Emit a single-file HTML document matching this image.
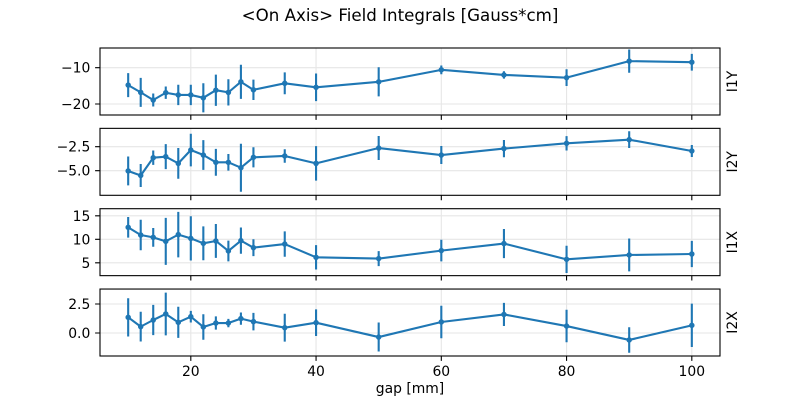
<!DOCTYPE html>
<html><head><meta charset="utf-8"><style>
html,body{margin:0;padding:0;background:#fff;}
svg{display:block;}
text{font-family:"DejaVu Sans","Liberation Sans",sans-serif;fill:#000;}
</style></head><body>
<svg width="800" height="400" viewBox="0 0 800 400" xmlns="http://www.w3.org/2000/svg">
<rect width="800" height="400" fill="#fff"/>
<text x="400" y="21" font-size="16.67" text-anchor="middle">&lt;On Axis&gt; Field Integrals [Gauss*cm]</text>

<!-- grids -->
<g stroke="#e6e6e6" stroke-width="1.1" fill="none">
  <path d="M190.81 48V115M316.06 48V115M441.31 48V115M566.56 48V115M691.81 48V115 M100 67.67H720M100 104H720"/>
  <path d="M190.81 128.35V195.3M316.06 128.35V195.3M441.31 128.35V195.3M566.56 128.35V195.3M691.81 128.35V195.3 M100 146.67H720M100 170.67H720"/>
  <path d="M190.81 208.7V275.65M316.06 208.7V275.65M441.31 208.7V275.65M566.56 208.7V275.65M691.81 208.7V275.65 M100 215.83H720M100 239.33H720M100 262.83H720"/>
  <path d="M190.81 289.04V356M316.06 289.04V356M441.31 289.04V356M566.56 289.04V356M691.81 289.04V356 M100 304H720M100 333H720"/>
</g>

<!-- series -->
<g stroke="#1f77b4" fill="none">
 <g transform="matrix(6.2626 0 0 -3.633 65.556 31.34)">
  <path vector-effect="non-scaling-stroke" stroke-width="2.1" d="M10 -18.1V-11.5 M12 -20.8V-12.8 M14 -20.7V-17.1 M16 -18.6V-15.2 M18 -20.3V-14.7 M20 -20.3V-14.7 M22 -22.3V-14.3 M24 -20.5V-11.9 M26 -20.4V-13.2 M28 -18.6V-9.2 M30 -18.9V-13.3 M35 -17.3V-11.3 M40 -19.2V-11.6 M50 -17.9V-9.9 M60 -11.8V-9.4 M70 -13V-11 M80 -15.05V-10.45 M90 -11.4V-5 M100 -10.8V-6.2"/>
  <polyline vector-effect="non-scaling-stroke" stroke-width="2.1" stroke-linejoin="round" points="10,-14.8 12,-16.8 14,-18.9 16,-16.9 18,-17.5 20,-17.5 22,-18.3 24,-16.2 26,-16.8 28,-13.9 30,-16.1 35,-14.3 40,-15.4 50,-13.9 60,-10.6 70,-12 80,-12.75 90,-8.2 100,-8.5"/>
  <path vector-effect="non-scaling-stroke" stroke-width="5.5" stroke-linecap="round" d="M10 -14.8l0 0M12 -16.8l0 0M14 -18.9l0 0M16 -16.9l0 0M18 -17.5l0 0M20 -17.5l0 0M22 -18.3l0 0M24 -16.2l0 0M26 -16.8l0 0M28 -13.9l0 0M30 -16.1l0 0M35 -14.3l0 0M40 -15.4l0 0M50 -13.9l0 0M60 -10.6l0 0M70 -12l0 0M80 -12.75l0 0M90 -8.2l0 0M100 -8.5l0 0"/>
 </g>
 <g transform="matrix(6.2626 0 0 -9.6 65.556 122.67)">
  <path vector-effect="non-scaling-stroke" stroke-width="2.1" d="M10 -6.53V-3.53 M12 -6.7V-4.3 M14 -4.4V-2.9 M16 -4.84V-2.24 M18 -5.84V-2.64 M20 -4.55V-1.15 M22 -4.92V-1.82 M24 -5.53V-2.73 M26 -5V-3.26 M28 -7.19V-2.19 M30 -4.66V-2.56 M35 -4.17V-2.77 M40 -6.04V-2.44 M50 -3.89V-1.39 M60 -4.31V-2.43 M70 -3.6V-1.8 M80 -2.9V-1.4 M90 -2.64V-0.9 M100 -3.58V-2.32"/>
  <polyline vector-effect="non-scaling-stroke" stroke-width="2.1" stroke-linejoin="round" points="10,-5.03 12,-5.5 14,-3.65 16,-3.54 18,-4.24 20,-2.85 22,-3.37 24,-4.13 26,-4.13 28,-4.69 30,-3.61 35,-3.47 40,-4.24 50,-2.64 60,-3.37 70,-2.7 80,-2.15 90,-1.77 100,-2.95"/>
  <path vector-effect="non-scaling-stroke" stroke-width="5.5" stroke-linecap="round" d="M10 -5.03l0 0M12 -5.5l0 0M14 -3.65l0 0M16 -3.54l0 0M18 -4.24l0 0M20 -2.85l0 0M22 -3.37l0 0M24 -4.13l0 0M26 -4.13l0 0M28 -4.69l0 0M30 -3.61l0 0M35 -3.47l0 0M40 -4.24l0 0M50 -2.64l0 0M60 -3.37l0 0M70 -2.7l0 0M80 -2.15l0 0M90 -1.77l0 0M100 -2.95l0 0"/>
 </g>
 <g transform="matrix(6.2626 0 0 -4.7 65.556 286.33)">
  <path vector-effect="non-scaling-stroke" stroke-width="2.1" d="M10 10.35V14.75 M12 7.67V14.17 M14 8.42V12.42 M16 4.57V14.57 M18 6.15V15.85 M20 5.5V14.9 M22 5.55V12.75 M24 6.05V13.25 M26 5.32V9.72 M28 6.92V12.52 M30 6.43V10.03 M35 6.3V11.7 M40 3.57V8.77 M50 4.3V7.5 M60 5.3V9.9 M70 6V12.2 M80 2.84V8.64 M90 3.17V10.17 M100 4.08V9.68"/>
  <polyline vector-effect="non-scaling-stroke" stroke-width="2.1" stroke-linejoin="round" points="10,12.55 12,10.92 14,10.42 16,9.57 18,11 20,10.2 22,9.15 24,9.65 26,7.52 28,9.72 30,8.23 35,9 40,6.17 50,5.9 60,7.6 70,9.1 80,5.74 90,6.67 100,6.88"/>
  <path vector-effect="non-scaling-stroke" stroke-width="5.5" stroke-linecap="round" d="M10 12.55l0 0M12 10.92l0 0M14 10.42l0 0M16 9.57l0 0M18 11l0 0M20 10.2l0 0M22 9.15l0 0M24 9.65l0 0M26 7.52l0 0M28 9.72l0 0M30 8.23l0 0M35 9l0 0M40 6.17l0 0M50 5.9l0 0M60 7.6l0 0M70 9.1l0 0M80 5.74l0 0M90 6.67l0 0M100 6.88l0 0"/>
 </g>
 <g transform="matrix(6.2626 0 0 -11.6 65.556 333)">
  <path vector-effect="non-scaling-stroke" stroke-width="2.1" d="M10 -0.3V3 M12 -0.73V1.83 M14 -0.18V2.42 M16 -0.2V3.48 M18 -0.42V2.26 M20 0.91V1.91 M22 -0.58V1.62 M24 0.29V1.43 M26 0.5V1.22 M28 0.71V1.77 M30 0.23V1.73 M35 -0.74V1.66 M40 -0.26V2.04 M50 -1.6V0.9 M60 -0.45V2.35 M70 0.6V2.6 M80 -0.8V2 M90 -1.7V0.5 M100 -1.21V2.53"/>
  <polyline vector-effect="non-scaling-stroke" stroke-width="2.1" stroke-linejoin="round" points="10,1.35 12,0.55 14,1.12 16,1.64 18,0.92 20,1.41 22,0.52 24,0.86 26,0.86 28,1.24 30,0.98 35,0.46 40,0.89 50,-0.35 60,0.95 70,1.6 80,0.6 90,-0.6 100,0.66"/>
  <path vector-effect="non-scaling-stroke" stroke-width="5.5" stroke-linecap="round" d="M10 1.35l0 0M12 0.55l0 0M14 1.12l0 0M16 1.64l0 0M18 0.92l0 0M20 1.41l0 0M22 0.52l0 0M24 0.86l0 0M26 0.86l0 0M28 1.24l0 0M30 0.98l0 0M35 0.46l0 0M40 0.89l0 0M50 -0.35l0 0M60 0.95l0 0M70 1.6l0 0M80 0.6l0 0M90 -0.6l0 0M100 0.66l0 0"/>
 </g>
</g>

<!-- spines and ticks -->
<g stroke="#000" stroke-width="1.1" fill="none">
  <rect x="100" y="48" width="620" height="67"/>
  <rect x="100" y="128.35" width="620" height="66.95"/>
  <rect x="100" y="208.7" width="620" height="66.95"/>
  <rect x="100" y="289.04" width="620" height="66.96"/>
  <path d="M190.81 115v4.9M316.06 115v4.9M441.31 115v4.9M566.56 115v4.9M691.81 115v4.9"/>
  <path d="M190.81 195.3v4.9M316.06 195.3v4.9M441.31 195.3v4.9M566.56 195.3v4.9M691.81 195.3v4.9"/>
  <path d="M190.81 275.65v4.9M316.06 275.65v4.9M441.31 275.65v4.9M566.56 275.65v4.9M691.81 275.65v4.9"/>
  <path d="M190.81 356v4.9M316.06 356v4.9M441.31 356v4.9M566.56 356v4.9M691.81 356v4.9"/>
  <path d="M100 67.67h-4.9M100 104h-4.9 M100 146.67h-4.9M100 170.67h-4.9 M100 215.83h-4.9M100 239.33h-4.9M100 262.83h-4.9 M100 304h-4.9M100 333h-4.9"/>
</g>

<!-- y tick labels -->
<g font-size="13.9" text-anchor="end">
  <text x="90.3" y="72.7">−10</text>
  <text x="90.3" y="109">−20</text>
  <text x="90.3" y="151.7">−2.5</text>
  <text x="90.3" y="175.7">−5.0</text>
  <text x="90.3" y="220.9">15</text>
  <text x="90.3" y="244.4">10</text>
  <text x="90.3" y="267.9">5</text>
  <text x="90.3" y="309">2.5</text>
  <text x="90.3" y="338">0.0</text>
</g>
<!-- x tick labels -->
<g font-size="13.9" text-anchor="middle">
  <text x="190.81" y="376">20</text>
  <text x="316.06" y="376">40</text>
  <text x="441.31" y="376">60</text>
  <text x="566.56" y="376">80</text>
  <text x="691.81" y="376">100</text>
</g>
<text x="410" y="393" font-size="13.9" text-anchor="middle">gap [mm]</text>

<!-- right labels -->
<g font-size="13.9" text-anchor="middle">
  <text transform="translate(737,81.5) rotate(-90)">I1Y</text>
  <text transform="translate(737,161.8) rotate(-90)">I2Y</text>
  <text transform="translate(737,242.2) rotate(-90)">I1X</text>
  <text transform="translate(737,322.5) rotate(-90)">I2X</text>
</g>
</svg>
</body></html>
